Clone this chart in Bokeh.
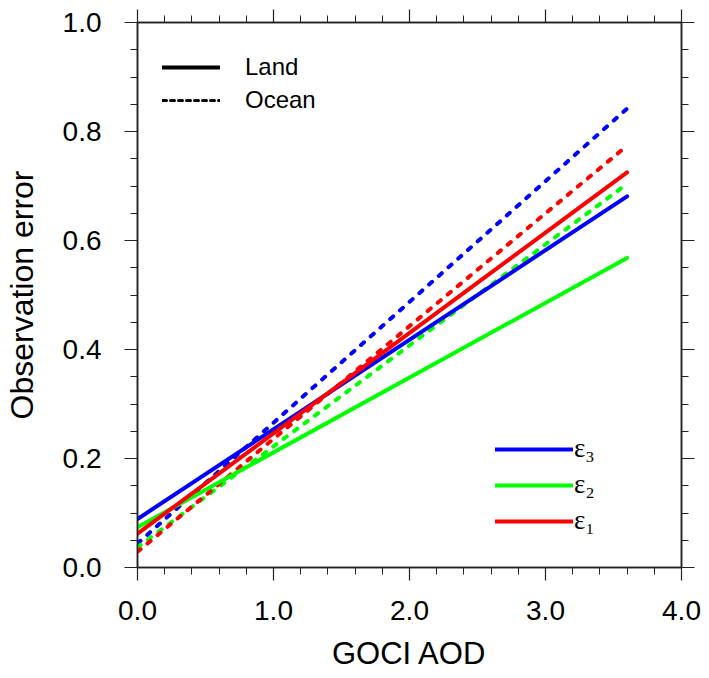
from bokeh.plotting import figure
from bokeh.models import (LinearAxis, SingleIntervalTicker, PrintfTickFormatter,
                          CustomJSTickFormatter, Legend, LegendItem, Range1d)
from bokeh.embed import file_html
from bokeh.resources import INLINE

# ---- data ----
x_aod = [0.0, 3.6]
land_e1 = [0.062, 0.725]
land_e2 = [0.074, 0.568]
land_e3 = [0.089, 0.681]
ocean_e1 = [0.029, 0.774]
ocean_e2 = [0.037, 0.704]
ocean_e3 = [0.044, 0.842]

x_label = "GOCI AOD"
y_label = "Observation error"
type_labels = ["Land", "Ocean"]
eps_labels = ["ε₃", "ε₂", "ε₁"]

RED = "#ff0000"
GREEN = "#00ff00"
BLUE = "#0000ff"

FW, FH = 544, 545
p = figure(frame_width=FW, frame_height=FH,
           min_border_left=137, min_border_top=22, min_border_right=20, min_border_bottom=100,
           x_range=Range1d(0, 4), y_range=Range1d(0, 1),
           output_backend="svg", toolbar_location=None,
           x_axis_location=None, y_axis_location=None)
p.grid.visible = False
p.outline_line_color = "#222222"
p.outline_line_width = 1.5
p.background_fill_color = "white"
p.border_fill_color = "white"

FONT = "Liberation Sans"


def style_axis(ax, labels=True):
    ax.axis_line_color = "#222222"
    ax.axis_line_width = 1.5
    ax.major_tick_line_color = "#222222"
    ax.minor_tick_line_color = "#222222"
    ax.major_tick_line_width = 1.2
    ax.minor_tick_line_width = 1.0
    ax.major_tick_in = 0
    ax.major_tick_out = 13
    ax.minor_tick_in = 0
    ax.minor_tick_out = 7
    if labels:
        ax.formatter = PrintfTickFormatter(format="%.1f")
        ax.major_label_text_font = FONT
        ax.major_label_text_font_size = "28px"
        ax.major_label_text_color = "black"
        ax.axis_label_text_font = FONT
        ax.axis_label_text_font_style = "normal"
        ax.axis_label_text_color = "black"
    else:
        ax.formatter = CustomJSTickFormatter(code="return ''")
        ax.major_label_standoff = 0


xt = dict(interval=1.0, num_minor_ticks=5)
yt = dict(interval=0.2, num_minor_ticks=4)

xb = LinearAxis(ticker=SingleIntervalTicker(**xt), axis_label=x_label)
style_axis(xb)
xb.major_label_standoff = 20
xb.axis_label_standoff = 13
xb.axis_label_text_font_size = "31px"
p.add_layout(xb, "below")

xa = LinearAxis(ticker=SingleIntervalTicker(**xt))
style_axis(xa, labels=False)
p.add_layout(xa, "above")

yl = LinearAxis(ticker=SingleIntervalTicker(**yt), axis_label=y_label)
style_axis(yl)
yl.major_label_standoff = 23
yl.axis_label_standoff = 20
yl.axis_label_text_font_size = "32px"
p.add_layout(yl, "left")

yr = LinearAxis(ticker=SingleIntervalTicker(**yt))
style_axis(yr, labels=False)
p.add_layout(yr, "right")

# ---- lines ----
W = 4
DASH = "4 9"
r_oe3 = p.line(x_aod, ocean_e3, line_color=BLUE, line_width=W, line_dash=DASH, line_cap="round")
r_oe2 = p.line(x_aod, ocean_e2, line_color=GREEN, line_width=W, line_dash=DASH, line_cap="round")
r_oe1 = p.line(x_aod, ocean_e1, line_color=RED, line_width=W, line_dash=DASH, line_cap="round")
r_le3 = p.line(x_aod, land_e3, line_color=BLUE, line_width=W, line_cap="round")
r_le2 = p.line(x_aod, land_e2, line_color=GREEN, line_width=W, line_cap="round")
r_le1 = p.line(x_aod, land_e1, line_color=RED, line_width=W, line_cap="round")

# legend-only renderers for the line-type legend (no visible data)
nan = float("nan")
r_land = p.line(x=[nan, nan], y=[nan, nan], line_color="black", line_width=4, line_cap="round")
r_ocean = p.line(x=[nan, nan], y=[nan, nan], line_color="black", line_width=3,
                 line_dash="4 4", line_cap="round")

leg_type = Legend(items=[LegendItem(label=type_labels[0], renderers=[r_land]),
                         LegendItem(label=type_labels[1], renderers=[r_ocean])],
                  location=(25, 453))
leg_type.glyph_width = 58
leg_type.glyph_height = 28
leg_type.label_height = 28
leg_type.spacing = 5
leg_type.label_standoff = 25
leg_type.padding = 0
leg_type.margin = 0
leg_type.border_line_alpha = 0
leg_type.background_fill_alpha = 0
leg_type.label_text_font = FONT
leg_type.label_text_font_size = "24px"
leg_type.label_text_color = "black"
p.add_layout(leg_type)

leg_eps = Legend(items=[LegendItem(label=eps_labels[0], renderers=[r_le3]),
                        LegendItem(label=eps_labels[1], renderers=[r_le2]),
                        LegendItem(label=eps_labels[2], renderers=[r_le1])],
                 location=(358, 31))
leg_eps.glyph_width = 78
leg_eps.glyph_height = 30
leg_eps.label_height = 30
leg_eps.spacing = 5
leg_eps.label_standoff = 1
leg_eps.padding = 0
leg_eps.margin = 0
leg_eps.border_line_alpha = 0
leg_eps.background_fill_alpha = 0
leg_eps.label_text_font = "Liberation Serif"
leg_eps.label_text_font_size = "27px"
leg_eps.label_text_color = "black"
p.add_layout(leg_eps)

open("out.html", "w").write(file_html(p, INLINE))
